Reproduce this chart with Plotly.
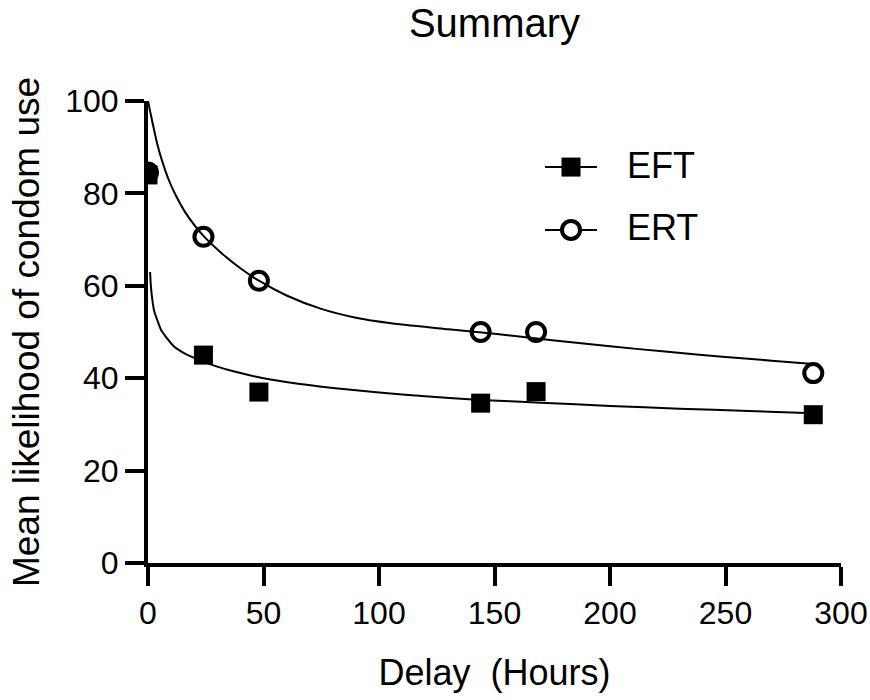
import plotly.graph_objects as go

# Observed data
delay = [0, 24, 48, 144, 168, 288]
eft = [84.0, 45.0, 37.0, 34.6, 37.1, 32.1]
ert = [84.5, 70.6, 61.1, 50.0, 50.0, 41.1]

# Fitted curves
ert_curve_x = [0, 1, 2, 4, 6, 9, 12, 16, 20, 24, 32, 40, 48, 60, 75, 90, 110, 130, 150, 175, 200, 225, 250, 270, 288]
ert_curve_y = [100, 97.6, 95.2, 90.7, 87.2, 82.9, 79.6, 76.0, 73.2, 70.8, 67.0, 63.8, 61.1, 57.9, 55.0, 53.1,
               51.6, 50.6, 49.6, 48.2, 46.9, 45.7, 44.6, 43.8, 43.1]
eft_curve_x = [0.9, 1.3, 2, 2.7, 4, 5.6, 8, 11.4, 15, 19, 24, 30, 37, 50, 65, 80, 100, 120, 144, 170, 200, 230, 260, 288]
eft_curve_y = [63, 59.6, 56.5, 54.5, 52.6, 50.5, 48.8, 46.8, 45.6, 44.6, 43.6, 42.5, 41.5, 40.0, 38.8, 37.9,
               36.9, 36.1, 35.3, 34.7, 34.0, 33.4, 32.9, 32.4]

x_ticks = [0, 50, 100, 150, 200, 250, 300]
y_ticks = [0, 20, 40, 60, 80, 100]
legend_names = ["EFT", "ERT"]

FONT = "Arial, 'Liberation Sans', sans-serif"

W, H = 870, 700

fig = go.Figure()

fig.add_trace(go.Scatter(x=ert_curve_x, y=ert_curve_y, mode="lines",
                         line=dict(color="black", width=2, shape="spline", smoothing=0.6),
                         showlegend=False, hoverinfo="skip"))
fig.add_trace(go.Scatter(x=eft_curve_x, y=eft_curve_y, mode="lines",
                         line=dict(color="black", width=2, shape="spline", smoothing=0.6),
                         showlegend=False, hoverinfo="skip"))

fig.add_trace(go.Scatter(x=delay, y=ert, mode="markers", name="ERT",
                         marker=dict(symbol="circle-open", size=18, color="black",
                                     line=dict(color="black", width=4)),
                         showlegend=False))
fig.add_trace(go.Scatter(x=delay, y=eft, mode="markers", name="EFT",
                         marker=dict(symbol="square", size=19, color="black"),
                         showlegend=False))

# Hand-built legend (paper coordinates)
leg_rows = [0.857, 0.721]
lx0, lx1, lxm, ltx = 0.5729, 0.6479, 0.6104, 0.6883
shapes = []
annotations = []
for name, yy in zip(legend_names, leg_rows):
    shapes.append(dict(type="line", xref="paper", yref="paper", x0=lx0, x1=lx1, y0=yy, y1=yy,
                       line=dict(color="black", width=2)))
    if name == "EFT":
        shapes.append(dict(type="rect", xref="paper", yref="paper", xsizemode="pixel", ysizemode="pixel",
                           xanchor=lxm, yanchor=yy, x0=-9.5, x1=9.5, y0=-9.5, y1=9.5,
                           fillcolor="black", line=dict(width=0)))
    else:
        shapes.append(dict(type="circle", xref="paper", yref="paper", xsizemode="pixel", ysizemode="pixel",
                           xanchor=lxm, yanchor=yy, x0=-9, x1=9, y0=-9, y1=9,
                           fillcolor="white", line=dict(color="black", width=4)))
    annotations.append(dict(text=name, xref="paper", yref="paper", x=ltx, y=yy, xanchor="left",
                            yanchor="middle", showarrow=False, yshift=2,
                            font=dict(family=FONT, size=36, color="black")))

axis_common = dict(showline=True, linewidth=4, linecolor="black",
                   ticks="outside", ticklen=19, tickwidth=4, tickcolor="black",
                   showgrid=False, zeroline=False, automargin=False,
                   tickfont=dict(family=FONT, size=32, color="black"))

fig.update_layout(
    width=W, height=H,
    margin=dict(l=148, r=29, t=101, b=137),
    paper_bgcolor="white", plot_bgcolor="white",
    font=dict(family=FONT, color="black"),
    showlegend=False,
    title=dict(text="Summary", x=0.5, xref="paper", xanchor="center",
               y=1 - 23 / H, yref="container", yanchor="middle",
               font=dict(family=FONT, size=40, color="black")),
    xaxis=dict(range=[0, 300], tickvals=x_ticks,
               title=dict(text="Delay\u00a0 (Hours)", standoff=30,
                          font=dict(family=FONT, size=36, color="black")),
               **axis_common),
    yaxis=dict(range=[0, 100], tickvals=y_ticks,
               title=dict(text="Mean likelihood of condom use", standoff=15,
                          font=dict(family=FONT, size=37, color="black")),
               **axis_common),
    shapes=shapes,
    annotations=annotations,
)

fig.write_html("out.html",
               config={"displayModeBar": False},
               post_script="document.body.style.margin='0';document.body.style.overflow='hidden';")
